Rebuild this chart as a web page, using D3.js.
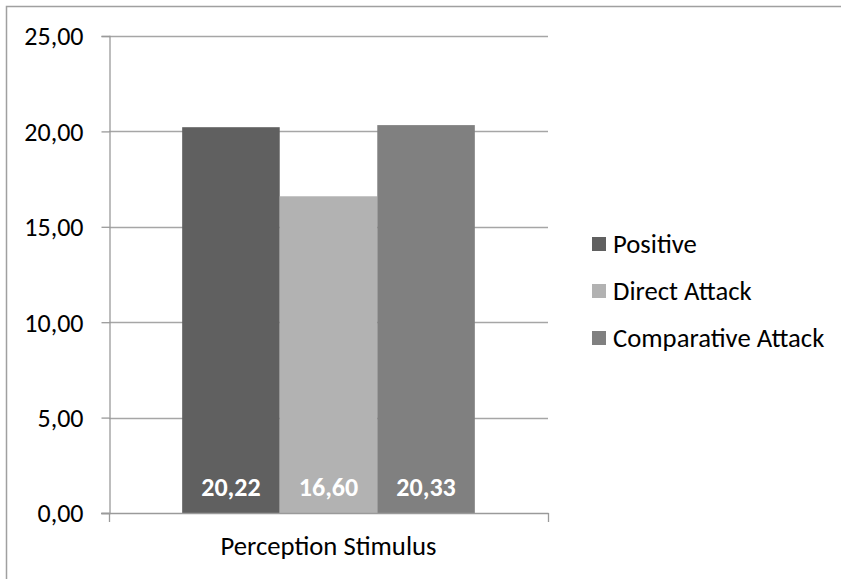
<!DOCTYPE html>
<html>
<head>
<meta charset="utf-8">
<script src="https://cdn.jsdelivr.net/npm/d3@7"></script>
<style>
  html, body { margin: 0; padding: 0; background: #fff; overflow: hidden; }
  svg { display: block; }
  text { font-family: Carlito, Calibri, Lato, "Open Sans", sans-serif; }
</style>
</head>
<body>
<svg id="chart" width="841" height="579"></svg>
<script>
const categories = ["Perception Stimulus"];
const seriesNames = ["Positive", "Direct Attack", "Comparative Attack"];
const seriesValues = [20.22, 16.60, 20.33];
const seriesColors = ["#606060", "#b2b2b2", "#808080"];
const yTicks = [0, 5, 10, 15, 20, 25];

const W = 841, H = 579;
const FS = 26, FS2 = 26.7;
const plot = { left: 109, right: 548, top: 36, bottom: 513 };
const svg = d3.select("#chart");

const locale = d3.formatLocale({ decimal: ",", thousands: ".", grouping: [3], currency: ["", "€"] });
const fmt = locale.format(".2f");

// outer chart border: only left and top edges are inside the picture
svg.append("path")
  .attr("d", `M6.5,${H} V6.5 H${W}`)
  .attr("fill", "none").attr("stroke", "#a0a0a0").attr("stroke-width", 1.5);

const y = d3.scaleLinear().domain([0, 25]).range([plot.bottom, plot.top]);
const x0 = d3.scaleBand().domain(categories).range([plot.left, plot.right]).paddingInner(0).paddingOuter(0);
const x1 = d3.scaleBand().domain(seriesNames).range([0, x0.bandwidth()]).paddingInner(0).paddingOuter(0.75);

// gridlines
svg.append("g").selectAll("line").data(yTicks.filter(d => d > 0)).join("line")
  .attr("x1", plot.left).attr("x2", plot.right)
  .attr("y1", d => Math.round(y(d)) + 0.5).attr("y2", d => Math.round(y(d)) + 0.5)
  .attr("stroke", "#a6a6a6").attr("stroke-width", 1.3);

// y axis
const yAxis = svg.append("g")
  .attr("transform", `translate(${plot.left + 0.5},0)`)
  .call(d3.axisLeft(y).tickValues(yTicks).tickSize(8).tickPadding(18).tickFormat(fmt));
yAxis.select(".domain").attr("stroke", "#9a9a9a").attr("stroke-width", 1.3);
yAxis.selectAll(".tick line").attr("stroke", "#9a9a9a").attr("stroke-width", 1.3);
yAxis.selectAll(".tick text")
  .attr("fill", "#000").attr("font-size", FS).attr("dy", "0.34em");

// bars
const g = svg.append("g");
categories.forEach(cat => {
  const bars = g.append("g").attr("transform", `translate(${x0(cat)},0)`);
  bars.selectAll("rect").data(seriesNames).join("rect")
    .attr("x", d => x1(d))
    .attr("width", x1.bandwidth())
    .attr("y", (d, i) => y(seriesValues[i]))
    .attr("height", (d, i) => y(0) - y(seriesValues[i]))
    .attr("fill", (d, i) => seriesColors[i]);
  bars.selectAll("text").data(seriesNames).join("text")
    .attr("x", d => x1(d) + x1.bandwidth() / 2)
    .attr("y", y(0) - 17)
    .attr("text-anchor", "middle")
    .attr("font-size", FS).attr("font-weight", "bold")
    .attr("fill", "#fff")
    .text((d, i) => fmt(seriesValues[i]));
});

// x axis
const xa = svg.append("g");
xa.append("line")
  .attr("x1", plot.left - 8).attr("x2", plot.right + 0.5)
  .attr("y1", y(0) + 0.5).attr("y2", y(0) + 0.5)
  .attr("stroke", "#9a9a9a").attr("stroke-width", 1.3);
const bounds = [x0(categories[0]), x0(categories[categories.length - 1]) + x0.bandwidth()];
xa.selectAll("line.tk").data(bounds).join("line").attr("class", "tk")
  .attr("x1", d => d + 0.5).attr("x2", d => d + 0.5)
  .attr("y1", y(0)).attr("y2", y(0) + 9)
  .attr("stroke", "#9a9a9a").attr("stroke-width", 1.3);
xa.selectAll("text").data(categories).join("text")
  .attr("x", d => x0(d) + x0.bandwidth() / 2)
  .attr("y", 555)
  .attr("text-anchor", "middle")
  .attr("font-size", FS2).attr("fill", "#000")
  .text(d => d);

// legend
const leg = svg.append("g").attr("transform", "translate(592,244)");
const items = leg.selectAll("g").data(seriesNames).join("g")
  .attr("transform", (d, i) => `translate(0,${i * 47})`);
items.append("rect").attr("x", 0).attr("y", -7).attr("width", 14).attr("height", 14)
  .attr("fill", (d, i) => seriesColors[i]);
items.append("text").attr("x", 21).attr("y", 0).attr("dy", "0.35em")
  .attr("font-size", FS2).attr("fill", "#000")
  .text(d => d);
</script>
</body>
</html>
